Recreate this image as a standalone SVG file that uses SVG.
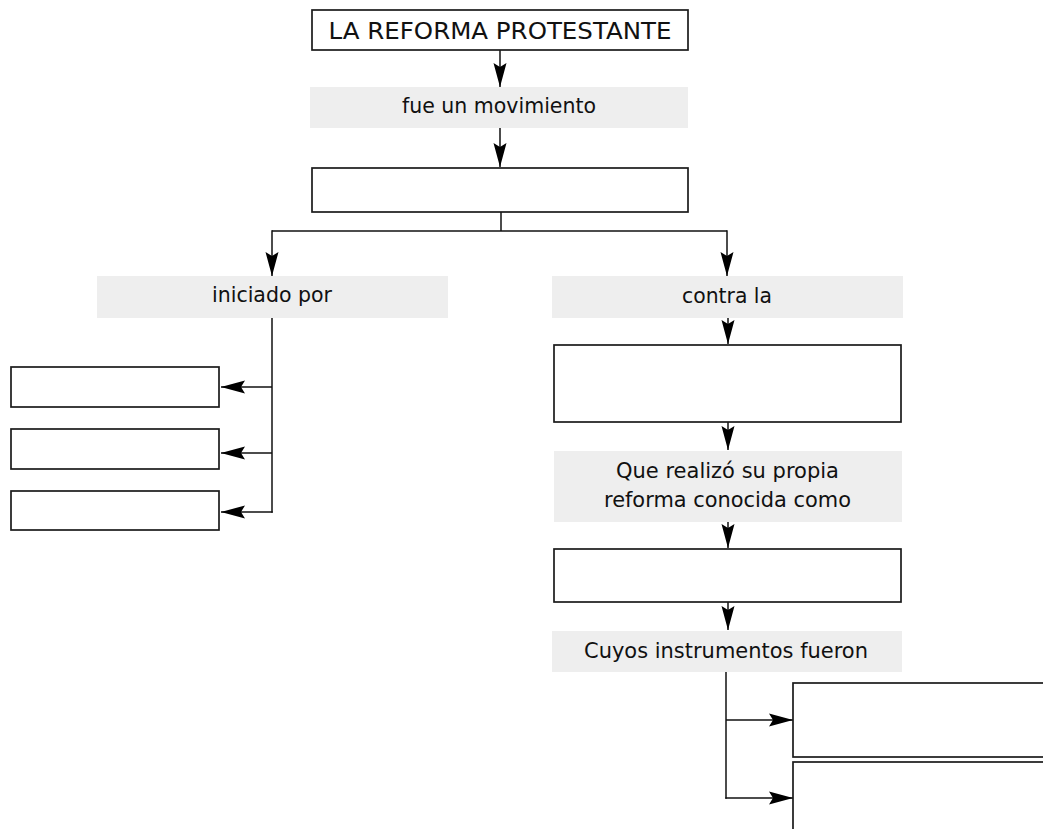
<svg xmlns="http://www.w3.org/2000/svg" width="1043" height="829" viewBox="0 0 1043 829">
<style>
.box{fill:#fff;stroke:#1a1a1a;stroke-width:1.7}
.lbl{fill:#eeeeee;stroke:none}
.t{font-family:"DejaVu Sans","Liberation Sans",sans-serif;font-size:20.5px;fill:#111;text-anchor:middle}
.ttl{font-size:23px}
.c{fill:none;stroke:#111;stroke-width:1.5}
</style>
<defs>
<marker id="ah" markerUnits="userSpaceOnUse" viewBox="-25 -8 26 16" markerWidth="26" markerHeight="16" refX="0" refY="0" orient="auto" overflow="visible">
<path d="M-24,-6.5 Q-11,-3 0,0 Q-11,3 -24,6.5 L-20,0 Z" fill="#000"/>
</marker>
</defs>
<rect width="1043" height="829" fill="#fff"/>
<g id="connectors">
<line class="c" x1="500" y1="50" x2="500" y2="87" marker-end="url(#ah)"/>
<line class="c" x1="500" y1="128" x2="500" y2="167" marker-end="url(#ah)"/>
<polyline class="c" points="501,212 501,231"/>
<polyline class="c" points="272,231 727,231"/>
<line class="c" x1="272" y1="230.3" x2="272" y2="276" marker-end="url(#ah)"/>
<line class="c" x1="727" y1="230.3" x2="727" y2="276" marker-end="url(#ah)"/>
<polyline class="c" points="272,318 272,512.7"/>
<line class="c" x1="272" y1="387" x2="221" y2="387" marker-end="url(#ah)"/>
<line class="c" x1="272" y1="453" x2="221" y2="453" marker-end="url(#ah)"/>
<line class="c" x1="272.7" y1="512" x2="221" y2="512" marker-end="url(#ah)"/>
<line class="c" x1="728" y1="318" x2="728" y2="344" marker-end="url(#ah)"/>
<line class="c" x1="728" y1="422" x2="728" y2="450" marker-end="url(#ah)"/>
<line class="c" x1="728" y1="522" x2="728" y2="548" marker-end="url(#ah)"/>
<line class="c" x1="728" y1="602" x2="728" y2="630" marker-end="url(#ah)"/>
<polyline class="c" points="726,672 726,798.7"/>
<line class="c" x1="726" y1="720" x2="793" y2="720" marker-end="url(#ah)"/>
<line class="c" x1="725.3" y1="798" x2="793" y2="798" marker-end="url(#ah)"/>
</g>
<g id="n-title">
<rect class="box" x="312" y="10" width="376" height="40"/>
<text class="t ttl" x="500" y="39" textLength="343" lengthAdjust="spacingAndGlyphs">LA REFORMA PROTESTANTE</text>
</g>
<g id="n-fue">
<rect class="lbl" x="310" y="87" width="378" height="41"/>
<text class="t" x="499" y="113" textLength="194" lengthAdjust="spacingAndGlyphs">fue un movimiento</text>
</g>
<g id="n-mov">
<rect class="box" x="312" y="168" width="376" height="44"/>
</g>
<g id="n-iniciado">
<rect class="lbl" x="97" y="276" width="351" height="42"/>
<text class="t" x="272" y="302" textLength="120" lengthAdjust="spacingAndGlyphs">iniciado por</text>
</g>
<g id="n-left1"><rect class="box" x="11" y="367" width="208" height="40"/></g>
<g id="n-left2"><rect class="box" x="11" y="429" width="208" height="40"/></g>
<g id="n-left3"><rect class="box" x="11" y="491" width="208" height="39"/></g>
<g id="n-contra">
<rect class="lbl" x="552" y="276" width="351" height="42"/>
<text class="t" x="727" y="303" textLength="90" lengthAdjust="spacingAndGlyphs">contra la</text>
</g>
<g id="n-iglesia"><rect class="box" x="554" y="345" width="347" height="77"/></g>
<g id="n-que">
<rect class="lbl" x="554" y="451" width="348" height="71"/>
<text class="t" x="727.5" y="478" textLength="223" lengthAdjust="spacingAndGlyphs">Que realizó su propia</text>
<text class="t" x="727.5" y="507" textLength="247" lengthAdjust="spacingAndGlyphs">reforma conocida como</text>
</g>
<g id="n-contrarreforma"><rect class="box" x="554" y="549" width="347" height="53"/></g>
<g id="n-cuyos">
<rect class="lbl" x="552" y="631" width="350" height="41"/>
<text class="t" x="726" y="658" textLength="284" lengthAdjust="spacingAndGlyphs">Cuyos instrumentos fueron</text>
</g>
<g id="n-inst1"><rect class="box" x="793" y="683" width="270" height="74"/></g>
<g id="n-inst2"><rect class="box" x="793" y="762" width="270" height="90"/></g>
</svg>
